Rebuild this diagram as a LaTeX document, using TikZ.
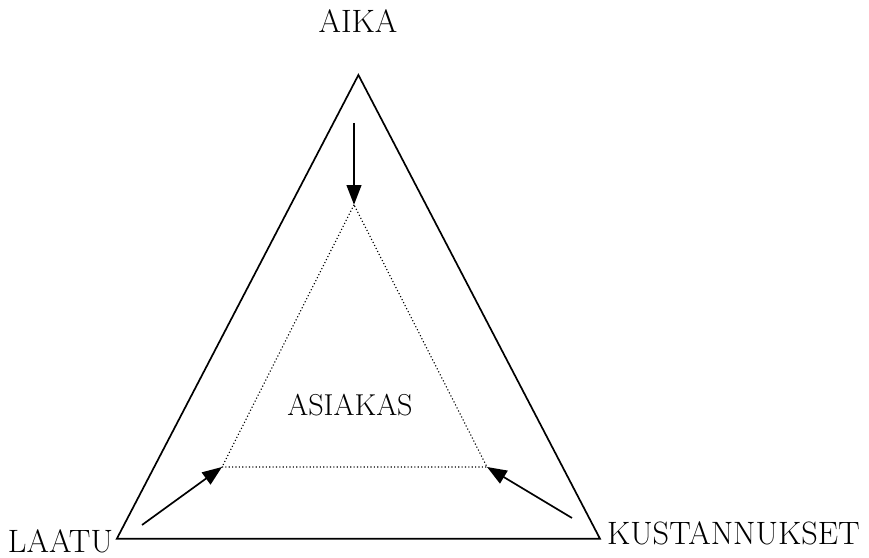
\documentclass[tikz,border=0pt]{standalone}
\usepackage{tikz}
\usetikzlibrary{arrows.meta}
\begin{document}
\begin{tikzpicture}[
  lbl/.style={font=\fontsize{23}{26}\selectfont,inner sep=0pt},
  edge/.style={line width=1.2pt,line join=miter},
  inner/.style={line width=0.8pt,dash pattern=on 0.8pt off 1.6pt},
  arr/.style={-{Triangle[length=14pt,width=10.5pt]},line width=1.2pt},
]
\useasboundingbox (0,0) rectangle (21.725,13.95);
\coordinate (top) at (8.96,12.075);
\coordinate (left) at (2.92,0.48);
\coordinate (right) at (15.0,0.48);
\coordinate (itop) at (8.85,8.83);
\coordinate (ileft) at (5.55,2.275);
\coordinate (iright) at (12.175,2.275);
\coordinate (ftop) at (8.85,10.875);
\coordinate (fleft) at (3.55,0.825);
\coordinate (fright) at (14.3,1.0);
\draw[edge] (top) -- (left) -- (right) -- cycle;
\draw[inner] (itop) -- (ileft) -- (iright) -- cycle;
\draw[arr] (ftop) -- (itop);
\draw[arr] (fleft) -- (ileft);
\draw[arr] (fright) -- (iright);
\node[lbl] (aika) at (8.95,13.42) {AIKA};
\node[lbl,font=\fontsize{21.5}{24}\selectfont] (asiakas) at (8.75,3.82) {ASIAKAS};
\node[lbl,anchor=base east] (laatu) at (2.83,0.13) {LAATU};
\node[lbl,anchor=base west] (kust) at (15.17,0.33) {KUSTANNUKSET};
\end{tikzpicture}
\end{document}
